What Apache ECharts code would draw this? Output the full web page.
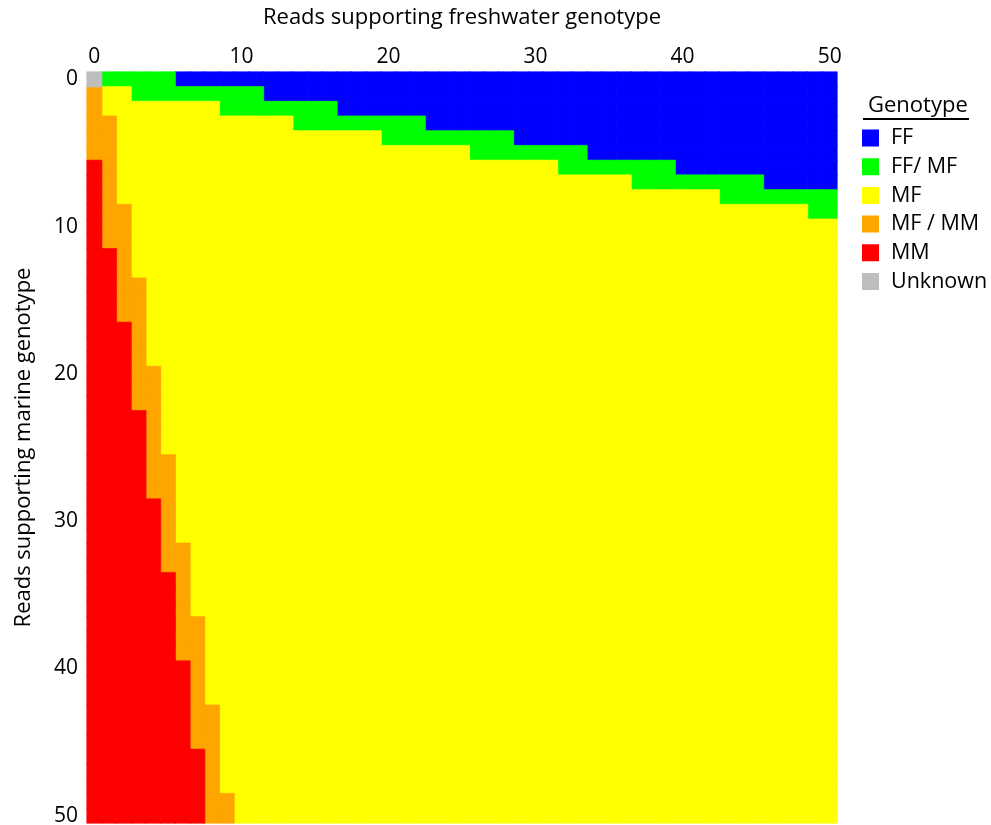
<!DOCTYPE html>
<html>
<head>
<meta charset="utf-8">
<script src="https://cdn.jsdelivr.net/npm/echarts@6/dist/echarts.min.js"></script>
<style>
html,body{margin:0;padding:0;background:#fff;}
#chart{width:991px;height:825px;}
</style>
</head>
<body>
<div id="chart"></div>
<script>
// Axis categories: read counts 0..50
const freshwaterReads = Array.from({length: 51}, (_, i) => String(i));
const marineReads = Array.from({length: 51}, (_, i) => String(i));

// Genotype classes and colours
const genotypes = ['FF', 'FF/ MF', 'MF', 'MF / MM', 'MM', 'Unknown'];
const genotypeColors = ['#0000ff', '#00ff00', '#ffff00', '#ffa500', '#ff0000', '#bebebe'];

// Per marine-read row m: first freshwater count classed FF / FF-MF
const blueFrom = [6, 12, 17, 23, 29, 34, 40, 46];
const greenFrom = [1, 3, 9, 14, 20, 26, 32, 37, 43, 49];
// Per freshwater-read column f: first marine count classed MM / MF-MM
const redFrom = [6, 12, 17, 23, 29, 34, 40, 46];
const orangeFrom = [1, 3, 9, 14, 20, 26, 32, 37, 43, 49];

function classify(f, m) {
  if (f === 0 && m === 0) return 5;
  if (m < blueFrom.length && f >= blueFrom[m]) return 0;
  if (m < greenFrom.length && f >= greenFrom[m]) return 1;
  if (f < redFrom.length && m >= redFrom[f]) return 4;
  if (f < orangeFrom.length && m >= orangeFrom[f]) return 3;
  return 2;
}

const cellsByGenotype = genotypes.map(() => []);
for (let m = 0; m < marineReads.length; m++) {
  for (let f = 0; f < freshwaterReads.length; f++) {
    const g = classify(f, m);
    cellsByGenotype[g].push([f, m, g]);
  }
}

const FONT = 'Open Sans';
const chart = echarts.init(document.getElementById('chart'), null, {renderer: 'canvas'});
chart.setOption({
  backgroundColor: '#ffffff',
  animation: false,
  textStyle: {fontFamily: FONT},
  grid: {left: 87, top: 72, right: 154, bottom: 2, containLabel: false, outerBoundsMode: 'none'},
  xAxis: {
    type: 'category',
    data: freshwaterReads,
    position: 'top',
    name: 'Reads supporting freshwater genotype',
    nameLocation: 'middle',
    nameGap: 43,
    nameTextStyle: {fontSize: 22, color: '#000', fontFamily: FONT},
    axisLine: {show: false},
    axisTick: {show: false},
    splitLine: {show: false},
    axisLabel: {interval: 9, fontSize: 21, color: '#000', margin: 4, fontFamily: FONT}
  },
  yAxis: {
    type: 'category',
    data: marineReads,
    inverse: true,
    name: 'Reads supporting marine genotype',
    nameLocation: 'middle',
    nameGap: 52,
    nameRotate: 90,
    nameTextStyle: {fontSize: 22, color: '#000', fontFamily: FONT},
    axisLine: {show: false},
    axisTick: {show: false},
    splitLine: {show: false},
    axisLabel: {interval: 9, fontSize: 21, color: '#000', margin: 9, fontFamily: FONT}
  },
  legend: {
    orient: 'vertical',
    left: 862,
    top: 127,
    padding: 0,
    icon: 'rect',
    itemWidth: 15,
    itemHeight: 15,
    itemGap: 6.7,
    selectedMode: false,
    textStyle: {fontSize: 21.5, color: '#000', fontFamily: FONT, padding: [0, 0, 0, 8]},
    data: genotypes
  },
  graphic: [
    {type: 'text', left: 868, top: 95, style: {text: 'Genotype', fontSize: 22, fontFamily: FONT, fill: '#000'}},
    {type: 'line', shape: {x1: 863, y1: 119, x2: 969, y2: 119}, style: {stroke: '#000', lineWidth: 2}}
  ],
  series: genotypes.map((name, i) => ({
    name: name,
    type: 'heatmap',
    data: cellsByGenotype[i],
    itemStyle: {color: genotypeColors[i], borderColor: genotypeColors[i], borderWidth: 0.6},
    emphasis: {disabled: true},
    progressive: 0
  }))
});
</script>
</body>
</html>
